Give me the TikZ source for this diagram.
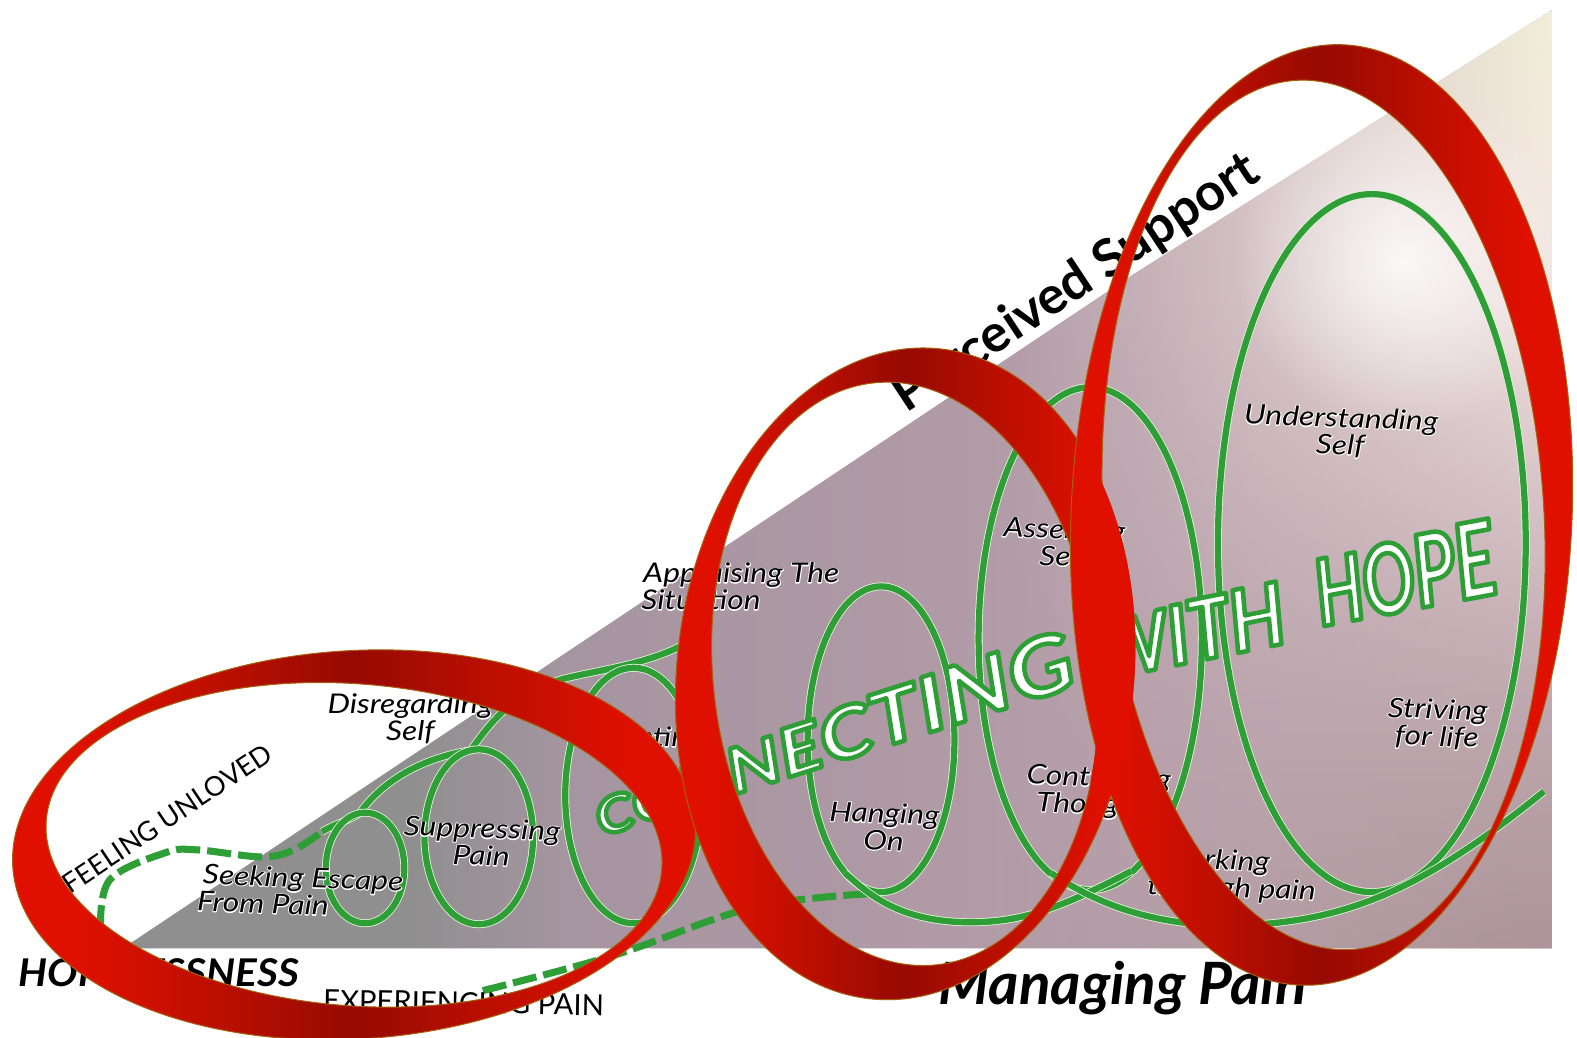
\documentclass[tikz,border=0pt]{standalone}
\usepackage{fontspec}
\setmainfont{Lato}
\newfontfamily\labfam[FakeStretch=1.17]{Lato}
\newfontfamily\bigA[FakeStretch=1.22]{Lato}
\newfontfamily\bigB[FakeStretch=0.9]{Lato}
\newfontfamily\bigC[FakeStretch=0.72]{Lato}
\newfontfamily\hopefam[FakeStretch=1.06]{Lato}
\usetikzlibrary{fadings}
\definecolor{rb}{HTML}{E01000}
\definecolor{rm}{HTML}{BC0F00}
\definecolor{rd}{HTML}{960A02}
\definecolor{rline}{HTML}{A8600A}
\definecolor{gl}{HTML}{2E9E36}
\definecolor{halo}{HTML}{E6F2DC}
\definecolor{g1}{HTML}{8F8F8F}
\definecolor{g2}{HTML}{A595A0}
\definecolor{g3}{HTML}{B09AA6}
\definecolor{g4}{HTML}{BBA4AE}
\definecolor{v0}{HTML}{F0EFD8}
\definecolor{v1}{HTML}{F5EADF}
\definecolor{v2}{HTML}{F0E2DE}
\definecolor{v3}{HTML}{D6C2C6}
\definecolor{v4}{HTML}{BFA8AE}
\definecolor{v5}{HTML}{AC9499}
\pgfdeclarehorizontalshading{ringsh}{100bp}{color(0bp)=(rb);color(25bp)=(rb);color(30bp)=(rb);color(40bp)=(rm);color(50bp)=(rd);color(60bp)=(rm);color(70bp)=(rb);color(75bp)=(rb);color(100bp)=(rb)}
\pgfdeclarehorizontalshading{groundsh}{100bp}{color(0bp)=(g1);color(25bp)=(g1);color(38bp)=(g1);color(43bp)=(g2);color(55bp)=(g3);color(65bp)=(g4);color(75bp)=(g4);color(100bp)=(g4)}
\pgfdeclareverticalshading{skysh}{100bp}{color(0bp)=(v5);color(25bp)=(v5);color(38bp)=(v4);color(48bp)=(v3);color(59bp)=(v2);color(67bp)=(v1);color(75bp)=(v0);color(100bp)=(v0)}
\tikzfading[name=rightin, left color=transparent!100, right color=transparent!0]
\tikzfading[name=glowfade, inner color=transparent!15, outer color=transparent!100]
\tikzset{
  loopline/.style={draw=halo, double=gl, double distance=6.2pt, line width=.8pt},
  dashline/.style={draw=gl, line width=7pt, dash pattern=on 24pt off 7pt},
  lab/.style={font=\fontsize{27}{27}\labfam\itshape, align=center, inner sep=0pt, text=black},
  ring/.style={shade, shading=ringsh, even odd rule, draw=rline, line width=1pt},
}
\newcommand\hl[1]{\leavevmode\rlap{\color{white}\special{pdf:code 2 Tr 1.8 w 1 j}#1\special{pdf:code 0 Tr}}#1}
\newcommand\biglet[2]{{\fontsize{#1}{#1}\selectfont #2}}
\newcommand\bigon{\color{white}\special{pdf:code 0.18 0.62 0.21 RG 2 Tr 4.5 w 1 j}}
\newcommand\bigoff{\special{pdf:code 0 Tr}}
\newcommand\pad[1]{\rule{#1}{0pt}}
\begin{document}
\begin{tikzpicture}[x=1pt,y=-1pt]
\useasboundingbox (0,0) rectangle (1568,1032);
\fill[white] (0,0) rectangle (1568,1032);
% ground triangle
\begin{scope}
\clip (122,943) -- (1128,272) -- (1543,10) -- (1543,943) -- cycle;
\shade[shading=groundsh] (0,0) rectangle (1568,943);
\shade[path fading=rightin, shading=skysh] (1000,0) rectangle (1543,943);
\shade[inner color=white, outer color=white, path fading=glowfade] (1395,260) ellipse [x radius=170, y radius=170];
\end{scope}
% green line
\draw[dashline] plot[smooth,tension=.6] coordinates {(100,924) (109,875) (164,848) (196,845) (260,852) (292,845) (320,827)};
\draw[dashline] plot[smooth,tension=.6] coordinates {(480,985) (610,950) (750,902) (875,888)};
\draw[loopline] (320,827) .. controls (335,818) and (350,815) .. (358,808) .. controls (385,770) and (430,752) .. (468,746) .. controls (490,715) and (510,690) .. (560,675) .. controls (600,665) and (650,660) .. (690,635);
\draw[loopline] (363,863) ellipse [x radius=39, y radius=55];
\draw[loopline] (476,832) ellipse [x radius=54, y radius=87];
\draw[loopline] (630,791) ellipse [x radius=68, y radius=127];
\draw[loopline] (876,735) ellipse [x radius=73, y radius=152];
\draw[loopline] (1084,635) ellipse [x radius=111, y radius=250];
\draw[loopline] (1364,540) ellipse [x radius=153, y radius=347];
\draw[loopline] (840,868) .. controls (860,885) and (890,917) .. (965,917) .. controls (1020,917) and (1060,900) .. (1125,866);
\draw[loopline] (1045,868) .. controls (1085,895) and (1140,920) .. (1220,920) .. controls (1340,920) and (1420,880) .. (1535,787);
% labels
\node[lab,rotate=-2] (seek) at (301,886) {\hl{Seeking Escape}\\\hl{From Pain}\pad{78pt}};
\node[lab,rotate=-2] (supp) at (479,837) {\hl{Suppressing}\\\hl{Pain}};
\node[lab] (disr) at (408,715) {\hl{Disregarding}\\\hl{Self}};
\node[lab] (adap) at (640,735) {\hl{Adapting}};
\node[lab] (appr) at (737,583) {\hl{Appraising The}\\\hl{Situation}\pad{80pt}};
\node[lab,rotate=-2] (hang) at (879,822) {\hl{Hanging}\\\hl{On}};
\node[lab,rotate=-2] (asse) at (1058,541) {\hl{Asserting}\\\hl{Self}};
\node[lab,rotate=-2] (cont) at (1092,788) {\hl{Controlling}\\\hl{Thoughts}};
\node[lab,rotate=-2] (work) at (1225,871) {\hl{Working}\pad{36pt}\\\hl{through pain}};
\node[lab,rotate=-2] (unde) at (1333,430) {\hl{Understanding}\\\hl{Self}};
\node[lab,rotate=-2] (stri) at (1429,720) {\hl{Striving}\\\hl{for life}};
\node[font=\fontsize{27}{30}\selectfont, rotate=33.7, inner sep=0pt] (feel) at (166,814) {FEELING UNLOVED};
\node[font=\fontsize{38}{38}\hopefam\bfseries\itshape, inner sep=0pt] (hope) at (158,967) {HOPELESSNESS};
\node[font=\fontsize{29}{30}\selectfont, rotate=-1, inner sep=0pt] (expe) at (461,997) {EXPERIENCING PAIN};
\node[font=\fontsize{58}{60}\selectfont\bfseries\itshape, inner sep=0pt] (mana) at (1116,982) {Managing Pain};
\node[font=\fontsize{52}{52}\selectfont\bfseries, rotate=33.5, inner sep=0pt] (perc) at (1070,282) {Perceived Support};
% big text
\node[rotate=17.6, anchor=base west, inner sep=0pt, font=\bigA\bfseries\itshape] (conn) at (598,832) {\bigon\biglet{50}{C}\biglet{54}{O}\biglet{58}{N}\biglet{62}{N}\biglet{66}{E}\biglet{70}{C}\biglet{74}{T}\biglet{76}{I}\biglet{78}{N}\biglet{80}{G}\bigoff};
\node[rotate=11.4, anchor=base west, inner sep=0pt, font=\bigB\bfseries\itshape] (with) at (1098,676) {\bigon\biglet{80}{W}\biglet{82}{I}\biglet{84}{T}\biglet{86}{H}\bigoff};
\node[rotate=10.6, anchor=base west, inner sep=0pt, font=\bigC\bfseries\itshape] (hopew) at (1314,623) {\bigon\biglet{92}{H}\biglet{96}{O}\biglet{100}{P}\biglet{104}{E}\bigoff};
% rings
\path[ring] (352,840) ellipse [x radius=340, y radius=193, rotate=3.7] (352,840) ellipse [x radius=307, y radius=160, rotate=-4.6];
\path[ring] (900,670) ellipse [x radius=227, y radius=325, rotate=-6.2] (900,670) ellipse [x radius=191, y radius=291, rotate=6.2];
\path[ring] (1314,512) ellipse [x radius=249, y radius=468, rotate=-2.7] (1316,512) ellipse [x radius=219, y radius=433, rotate=3.7];
\begin{scope}
\clip (1085,470) rectangle (1140,790);
\path[fill=rb, draw=rb, line width=1pt, even odd rule] (900,670) ellipse [x radius=227, y radius=325, rotate=-6.2] (900,670) ellipse [x radius=191, y radius=291, rotate=6.2];
\end{scope}
\end{tikzpicture}
\end{document}
